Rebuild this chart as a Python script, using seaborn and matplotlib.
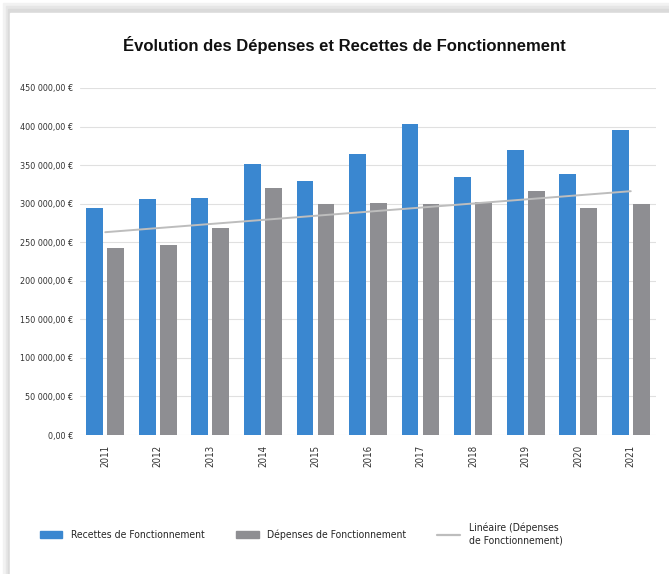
import numpy as np
import pandas as pd
import seaborn as sns
from matplotlib import pyplot as plt
from matplotlib import font_manager
from matplotlib.patches import Rectangle
from matplotlib.lines import Line2D
from matplotlib.ticker import FuncFormatter, MultipleLocator

# data
years = ['2011', '2012', '2013', '2014', '2015', '2016', '2017', '2018', '2019', '2020', '2021']
recettes = [295000, 306000, 307000, 352000, 330000, 365000, 403000, 334000, 370000, 339000, 396000]
depenses = [242000, 246000, 268000, 320000, 299000, 300500, 299000, 302000, 316000, 294000, 299000]

lab_rec = 'Recettes de Fonctionnement'
lab_dep = 'Dépenses de Fonctionnement'
lab_lin = 'Linéaire (Dépenses\nde Fonctionnement)'

blue = '#3A87D0'
gray = '#8E8E92'
trend_col = '#BDBDBD'

# narrow font if there is one (Liberation Sans Narrow / DejaVu Sans Condensed)
fonts = font_manager.fontManager.ttflist
names = {f.name for f in fonts}
cond_dejavu = any(f.name == 'DejaVu Sans' and f.stretch == 'condensed' for f in fonts)
if 'Liberation Sans Narrow' in names:
    narrow, stretch, small = 'Liberation Sans Narrow', 'normal', 7.5
elif cond_dejavu:
    narrow, stretch, small = 'DejaVu Sans', 'condensed', 6.5
else:
    narrow, stretch, small = 'Liberation Sans', 'normal', 6.5

sns.set_theme(style='white')
plt.rcParams['font.family'] = [narrow, 'DejaVu Sans']
plt.rcParams['font.stretch'] = stretch

df = pd.DataFrame({'annee': years * 2,
                   'montant': recettes + depenses,
                   'serie': [lab_rec] * len(years) + [lab_dep] * len(years)})

fig = plt.figure(figsize=(6.69, 5.74), dpi=100)

# card with a soft shadow on the left / top
for i, c in enumerate(['#f2f2f2', '#e6e6e6', '#dadada']):
    fig.patches.append(Rectangle(((3 + i * 2.5) / 669, 0), 1, (574 - 3 - i * 3) / 574,
                                 transform=fig.transFigure, color=c, zorder=-3 + i))
fig.patches.append(Rectangle((10 / 669, 0), 1, (574 - 13) / 574,
                             transform=fig.transFigure, color='white', zorder=0))

ax = fig.add_axes([80 / 669, 139 / 574, 576 / 669, 347 / 574])
ax.set_facecolor('none')
ax.set_zorder(5)

sns.barplot(data=df, x='annee', y='montant', hue='serie', ax=ax,
            palette=[blue, gray], width=0.8, gap=0.2, legend=False,
            saturation=1, edgecolor='none', zorder=2)

# linear trend of the expenses
xs = np.arange(len(years))
coef = np.polyfit(xs, depenses, 1)
ax.plot(xs, np.polyval(coef, xs), color=trend_col, lw=1.4, zorder=3)

ax.set_ylim(0, 450000)
ax.set_xlim(-0.48, len(years) - 0.52)
ax.yaxis.set_major_locator(MultipleLocator(50000))
ax.yaxis.set_major_formatter(FuncFormatter(
    lambda v, p: '{:,.2f} €'.format(v).replace(',', ' ').replace('.', ',')))
ax.grid(axis='y', color='#e0e0e0', lw=0.8, zorder=0)
ax.set_axisbelow(True)
for s in ax.spines.values():
    s.set_visible(False)
ax.set_xlabel('')
ax.set_ylabel('')
ax.tick_params(axis='y', labelsize=small, colors='#333333', length=0, pad=5)
ax.tick_params(axis='x', labelsize=small + 0.5, colors='#333333', length=0, pad=7, rotation=90)

fig.text(0.515, 1 - 45 / 574, 'Évolution des Dépenses et Recettes de Fonctionnement',
         ha='center', va='center', fontsize=12, fontweight='bold',
         family=['Liberation Sans', 'DejaVu Sans'], fontstretch='normal',
         color='#111111', zorder=6)

handles = [Rectangle((0, 0), 1, 1, color=blue),
           Rectangle((0, 0), 1, 1, color=gray),
           Line2D([0], [0], color=trend_col, lw=1.6)]
leg = fig.legend(handles, [lab_rec, lab_dep, lab_lin], loc='center',
                 bbox_to_anchor=(0.45, 1 - 534 / 574), ncol=3, frameon=False,
                 fontsize=small + 1, handlelength=2.2, handleheight=0.6,
                 columnspacing=3.0, handletextpad=0.8)
leg.set_zorder(6)

plt.savefig('out.png', dpi=100)
